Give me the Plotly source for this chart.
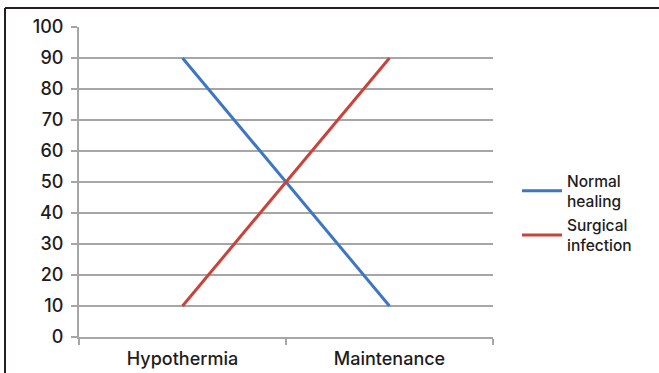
import plotly.graph_objects as go

categories = ["Hypothermia", "Maintenance"]
normal_healing = [90, 10]
surgical_infection = [10, 90]
series_names = ["Normal<br>healing", "Surgical<br>infection"]
y_ticks = [0, 10, 20, 30, 40, 50, 60, 70, 80, 90, 100]

W, H = 659, 373
ML, MR, MT, MB = 79, 166, 27, 36
pw, ph = W - ML - MR, H - MT - MB

def px_x(p):
    return (p - ML) / pw

def px_y(p):
    return (H - MB - p) / ph

FONT = "Inter, Liberation Sans, Arial, sans-serif"

fig = go.Figure()
fig.add_trace(go.Scatter(x=categories, y=normal_healing, mode="lines",
                         name=series_names[0], legendgroup="a",
                         line=dict(color="#3d77c4", width=3)))
fig.add_trace(go.Scatter(x=categories, y=surgical_infection, mode="lines",
                         name=series_names[1], legendgroup="b",
                         line=dict(color="#c9423b", width=3)))

fig.update_layout(
    width=W, height=H,
    margin=dict(l=ML, r=MR, t=MT, b=MB, pad=0, autoexpand=False),
    paper_bgcolor="white", plot_bgcolor="white",
    font=dict(family=FONT, color="#1e1c1c", size=16, weight=500),
    showlegend=True,
    legend=dict(x=1.058, y=0.40, xanchor="left", yanchor="middle",
                font=dict(size=15.5, family=FONT, weight=500),
                traceorder="grouped", tracegroupgap=1, itemwidth=40,
                bgcolor="rgba(0,0,0,0)"),
    xaxis=dict(type="category", range=[-0.5, 1.5], showgrid=False,
               showline=True, linecolor="#a6a6a6", linewidth=2,
               ticks="outside", tickson="boundaries", ticklen=6,
               tickcolor="#a6a6a6", tickwidth=2, automargin=False,
               tickfont=dict(size=18, family=FONT, weight=500),
               zeroline=False, ticklabelstandoff=4),
    yaxis=dict(range=[0, 100], tickvals=y_ticks, showgrid=True,
               gridcolor="#a6a6a6", gridwidth=2, showline=True,
               linecolor="#a6a6a6", linewidth=2, ticks="outside",
               ticklen=6, tickcolor="#a6a6a6", tickwidth=2,
               zeroline=False, automargin=False,
               tickfont=dict(size=18, family=FONT, weight=500),
               ticklabelstandoff=4),
    shapes=[
        dict(type="line", xref="paper", yref="paper",
             x0=px_x(5), x1=px_x(W), y0=px_y(8), y1=px_y(8),
             line=dict(color="#231f20", width=2)),
        dict(type="line", xref="paper", yref="paper",
             x0=px_x(5), x1=px_x(5), y0=px_y(8), y1=px_y(H),
             line=dict(color="#231f20", width=2)),
    ],
)

fig.write_html("out.html")
